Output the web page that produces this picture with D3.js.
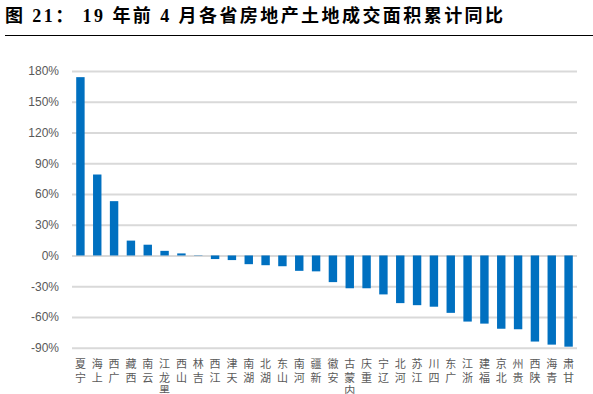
<!DOCTYPE html>
<html>
<head>
<meta charset="utf-8">
<script src="https://cdn.jsdelivr.net/npm/d3@7"></script>
<style>
  body { margin: 0; background: #fff; }
  svg { display: block; }
</style>
</head>
<body>
<svg id="chart" width="593" height="394"></svg>
<script>
// Chart data
var titleText = "图 21：  19 年前 4 月各省房地产土地成交面积累计同比";

var provinces = ["宁夏", "上海", "广西", "西藏", "云南", "黑龙江", "山西", "吉林", "江西", "天津",
                 "湖南", "湖北", "山东", "河南", "新疆", "安徽", "内蒙古", "重庆", "辽宁", "河北",
                 "江苏", "四川", "广东", "浙江", "福建", "北京", "贵州", "陕西", "青海", "甘肃"];

var growth = [174, 79, 53, 14.5, 10.5, 4.5, 2, 0.3, -3.5, -4.5,
              -8.5, -9.5, -10.5, -15, -15.5, -26, -32, -32, -38, -46.5,
              -48.5, -50, -56, -64.5, -66.5, -71.5, -72, -84, -87, -89];

var yTicks = [-90, -60, -30, 0, 30, 60, 90, 120, 150, 180];

var svg = d3.select("#chart");

// plot box (note: "top" is taken by window, so plotTop)
var plotLeft = 72, plotRight = 577,
    plotTop = 71, plotBottom = 347.7;

var x = d3.scaleBand()
    .domain(provinces)
    .range([plotLeft, plotRight])
    .paddingInner(0.5)
    .paddingOuter(0.25);

var y = d3.scaleLinear()
    .domain([-90, 180])
    .range([plotBottom, plotTop]);

// Title and the rule under it
svg.append("text")
    .attr("x", 5)
    .attr("y", 22)
    .attr("font-family", "'Liberation Serif', 'Noto Sans CJK SC', serif")
    .attr("font-weight", "bold")
    .attr("font-size", 18)
    .attr("textLength", 498)
    .attr("lengthAdjust", "spacing")
    .attr("fill", "#000")
    .text(titleText);

svg.append("line")
    .attr("x1", 5).attr("x2", 593)
    .attr("y1", 35.5).attr("y2", 35.5)
    .attr("stroke", "#000")
    .attr("stroke-width", 1);

// Gridlines with tick labels, no axis line
var yAxis = d3.axisLeft(y)
    .tickValues(yTicks)
    .tickSize(-(plotRight - plotLeft))
    .tickPadding(13)
    .tickFormat(function(d) { return d + "%"; });

var gy = svg.append("g")
    .attr("transform", "translate(" + plotLeft + ",0)")
    .call(yAxis);

gy.select(".domain").remove();
gy.selectAll(".tick line")
    .attr("stroke", "#d9d9d9")
    .attr("stroke-width", 2);
gy.selectAll(".tick text")
    .attr("fill", "#595959")
    .attr("font-family", "'Liberation Sans', Arial, sans-serif")
    .attr("font-size", 12);

// Bars
svg.append("g").selectAll("rect")
    .data(provinces)
    .enter()
    .append("rect")
    .attr("x", function(d) { return x(d); })
    .attr("width", x.bandwidth())
    .attr("y", function(d, i) { return y(Math.max(0, growth[i])); })
    .attr("height", function(d, i) { return Math.abs(y(growth[i]) - y(0)); })
    .attr("fill", "#0070c0");

// Category labels: upright characters stacked, last character on top
var charStep = 13.5, firstRow = 368;
var labels = svg.append("g").selectAll("g")
    .data(provinces)
    .enter()
    .append("g")
    .attr("transform", function(d) { return "translate(" + (x(d) + x.bandwidth() / 2) + ",0)"; });

labels.selectAll("text")
    .data(function(d) { return d.split("").reverse(); })
    .enter()
    .append("text")
    .attr("x", 0)
    .attr("y", function(c, j) { return firstRow + j * charStep; })
    .attr("text-anchor", "middle")
    .attr("font-family", "'Noto Sans CJK SC', sans-serif")
    .attr("font-size", 11)
    .attr("fill", "#595959")
    .text(function(c) { return c; });
</script>
</body>
</html>
